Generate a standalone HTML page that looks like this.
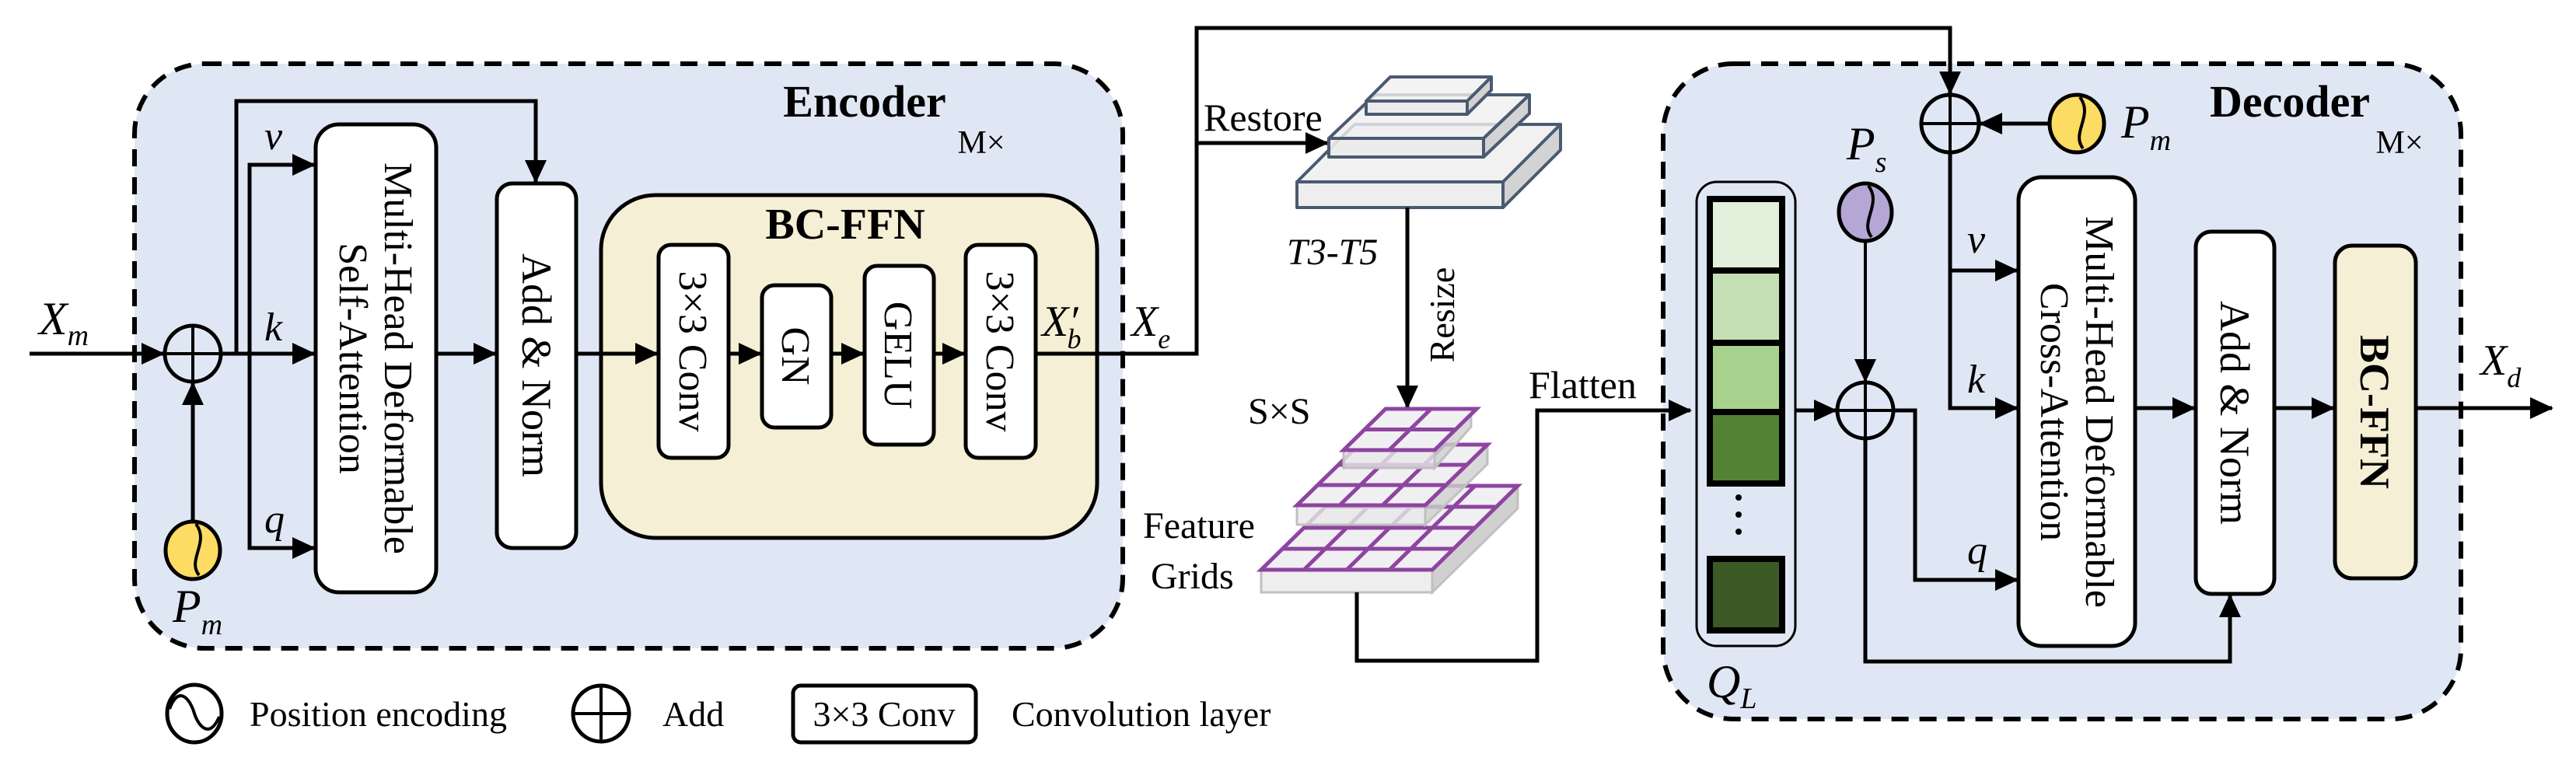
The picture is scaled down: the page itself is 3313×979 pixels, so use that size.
<!DOCTYPE html>
<html><head><meta charset="utf-8"><style>
html,body{margin:0;padding:0;background:#fff;}
svg{display:block;}
svg text{font-family:"Liberation Serif","DejaVu Serif","Times New Roman",serif;fill:#000;}
</style></head><body>
<svg width="3313" height="979" viewBox="0 0 3313 979" xmlns="http://www.w3.org/2000/svg" font-family="Liberation Serif, DejaVu Serif, serif">
<defs>
<marker id="ar" markerUnits="userSpaceOnUse" markerWidth="30" markerHeight="28" refX="28" refY="14" orient="auto"><path d="M0,0 L30,14 L0,28 Z" fill="#000"/></marker>
<g id="pe"><path d="M8,32 C-8,12 22,-10 4,-34" fill="none" stroke="#000" stroke-width="4"/></g>
</defs>

<!-- Encoder box -->
<rect x="173" y="82" width="1271" height="752" rx="90" fill="#e0e7f4" stroke="#000" stroke-width="6" stroke-dasharray="22,14"/>
<text x="1112" y="150" font-size="58" font-weight="bold" text-anchor="middle">Encoder</text>
<text x="1262" y="197" font-size="42" text-anchor="middle">M×</text>

<!-- input -->
<line x1="38" y1="455" x2="210" y2="455" stroke="#000" stroke-width="5" marker-end="url(#ar)"/>
<text x="50" y="430" font-size="60" font-style="italic">X<tspan dy="14" font-size="38">m</tspan></text>
<circle cx="248" cy="455" r="36" fill="none" stroke="#000" stroke-width="5"/>
<line x1="212" y1="455" x2="284" y2="455" stroke="#000" stroke-width="4"/>
<line x1="248" y1="419" x2="248" y2="491" stroke="#000" stroke-width="4"/>
<line x1="248" y1="672" x2="248" y2="493" stroke="#000" stroke-width="5" marker-end="url(#ar)"/>
<ellipse cx="248" cy="708" rx="35" ry="37" fill="#fcdc63" stroke="#000" stroke-width="5"/>
<use href="#pe" x="248" y="708"/>
<text x="222" y="800" font-size="60" font-style="italic">P<tspan dy="16" font-size="38">m</tspan></text>

<!-- branches -->
<line x1="284" y1="455" x2="404" y2="455" stroke="#000" stroke-width="5" marker-end="url(#ar)"/>
<polyline points="404,212 321,212 321,705 404,705" fill="none" stroke="#000" stroke-width="5"/>
<line x1="321" y1="212" x2="404" y2="212" stroke="#000" stroke-width="5" marker-end="url(#ar)"/>
<line x1="321" y1="705" x2="404" y2="705" stroke="#000" stroke-width="5" marker-end="url(#ar)"/>
<polyline points="304,455 304,130 689,130 689,234" fill="none" stroke="#000" stroke-width="5" marker-end="url(#ar)"/>
<text x="340" y="192" font-size="52" font-style="italic">v</text>
<text x="340" y="438" font-size="52" font-style="italic">k</text>
<text x="340" y="685" font-size="52" font-style="italic">q</text>

<!-- MHSA -->
<rect x="406" y="160" width="155" height="602" rx="30" fill="#fff" stroke="#000" stroke-width="5"/>
<g transform="translate(483,461) rotate(90)"><text x="0" y="-12" font-size="52" text-anchor="middle">Multi-Head Deformable</text><text x="0" y="46" font-size="52" text-anchor="middle">Self-Attention</text></g>
<line x1="561" y1="455" x2="637" y2="455" stroke="#000" stroke-width="5" marker-end="url(#ar)"/>
<rect x="639" y="236" width="102" height="469" rx="20" fill="#fff" stroke="#000" stroke-width="5"/>
<g transform="translate(690,470) rotate(90)"><text x="0" y="18" font-size="54" text-anchor="middle">Add &amp; Norm</text></g>

<!-- BC-FFN -->
<rect x="773" y="251" width="638" height="441" rx="70" fill="#f5efd5" stroke="#000" stroke-width="5"/>
<text x="1087" y="307" font-size="56" font-weight="bold" text-anchor="middle">BC-FFN</text>
<line x1="741" y1="455" x2="845" y2="455" stroke="#000" stroke-width="5" marker-end="url(#ar)"/>
<rect x="847" y="315" width="90" height="274" rx="16" fill="#fff" stroke="#000" stroke-width="5"/>
<g transform="translate(892,452) rotate(90)"><text x="0" y="18" font-size="52" text-anchor="middle">3×3 Conv</text></g>
<line x1="937" y1="455" x2="978" y2="455" stroke="#000" stroke-width="5" marker-end="url(#ar)"/>
<rect x="980" y="367" width="89" height="183" rx="16" fill="#fff" stroke="#000" stroke-width="5"/>
<g transform="translate(1024,458) rotate(90)"><text x="0" y="18" font-size="52" text-anchor="middle">GN</text></g>
<line x1="1069" y1="455" x2="1110" y2="455" stroke="#000" stroke-width="5" marker-end="url(#ar)"/>
<rect x="1112" y="342" width="89" height="230" rx="16" fill="#fff" stroke="#000" stroke-width="5"/>
<g transform="translate(1156,457) rotate(90)"><text x="0" y="18" font-size="52" text-anchor="middle">GELU</text></g>
<line x1="1201" y1="455" x2="1240" y2="455" stroke="#000" stroke-width="5" marker-end="url(#ar)"/>
<rect x="1242" y="315" width="90" height="274" rx="16" fill="#fff" stroke="#000" stroke-width="5"/>
<g transform="translate(1287,452) rotate(90)"><text x="0" y="18" font-size="52" text-anchor="middle">3×3 Conv</text></g>
<text x="1340" y="432" font-size="56" font-style="italic">X′<tspan dx="-14" dy="16" font-size="36">b</tspan></text>
<text x="1455" y="432" font-size="56" font-style="italic">X<tspan dy="16" font-size="36">e</tspan></text>

<!-- output routing -->
<polyline points="1332,455 1539,455 1539,36 2508,36 2508,120" fill="none" stroke="#000" stroke-width="5" marker-end="url(#ar)"/>
<line x1="1539" y1="184" x2="1707" y2="184" stroke="#000" stroke-width="5" marker-end="url(#ar)"/>
<text x="1548" y="168" font-size="50">Restore</text>

<!-- restore stack -->
<g stroke="#4a5a70" stroke-width="4" stroke-linejoin="round">
<polygon points="1668,234 1742,160 2007,160 1933,234" fill="#f0f0f1" fill-opacity="0.9"/>
<polygon points="1933,234 2007,160 2007,193 1933,267" fill="#d3d3d4"/>
<rect x="1668" y="234" width="265" height="33" fill="#eeeeef"/>
<polygon points="1709,178 1768,122 1967,122 1908,178" fill="#f0f0f1" fill-opacity="0.8"/>
<polygon points="1908,178 1967,122 1967,146 1908,202" fill="#d3d3d4"/>
<rect x="1709" y="178" width="199" height="24" fill="#ebebec" fill-opacity="0.9"/>
<polygon points="1757,130 1788,99 1918,99 1887,130" fill="#f0f0f1" fill-opacity="0.8"/>
<polygon points="1887,130 1918,99 1918,116 1887,147" fill="#d3d3d4"/>
<rect x="1757" y="130" width="130" height="17" fill="#ebebec" fill-opacity="0.9"/>
</g>
<text x="1655" y="340" font-size="48" font-style="italic">T3-T5</text>
<line x1="1810" y1="267" x2="1810" y2="524" stroke="#000" stroke-width="5" marker-end="url(#ar)"/>
<g transform="translate(1855,405) rotate(-90)"><text x="0" y="15" font-size="46" text-anchor="middle">Resize</text></g>
<text x="1605" y="545" font-size="48">S×S</text>
<text x="1470" y="692" font-size="48">Feature</text>
<text x="1480" y="757" font-size="48">Grids</text>

<!-- feature grids -->
<g>
<polygon points="1842,733 1952,625 1952,654 1842,762" fill="#d0d0d0" stroke="#c0c0c0" stroke-width="3"/>
<rect x="1622" y="733" width="220" height="29" fill="#eeeeee" stroke="#c0c0c0" stroke-width="3"/>
<g transform="matrix(220 0 110 -108 1622 733)" fill="#f0f0f2" stroke="#8e44a0" stroke-width="5">
<rect x="0" y="0" width="1" height="1" vector-effect="non-scaling-stroke"/>
<path d="M0.25,0V1M0.5,0V1M0.75,0V1M0,0.25H1M0,0.5H1M0,0.75H1" vector-effect="non-scaling-stroke" fill="none"/>
</g>
<polygon points="1833,650 1913,572 1913,597 1833,675" fill="#d0d0d0" fill-opacity="0.8" stroke="#c0c0c0" stroke-width="3"/>
<rect x="1668" y="650" width="165" height="25" fill="#e8e8e8" fill-opacity="0.8" stroke="#c0c0c0" stroke-width="3"/>
<g transform="matrix(165 0 80 -78 1668 650)" fill="#f0f0f2" stroke="#8e44a0" stroke-width="5">
<rect x="0" y="0" width="1" height="1" vector-effect="non-scaling-stroke"/>
<path d="M0.333,0V1M0.667,0V1M0,0.333H1M0,0.667H1" vector-effect="non-scaling-stroke" fill="none"/>
</g>
<polygon points="1845,579 1892,526 1892,549 1845,602" fill="#d0d0d0" fill-opacity="0.8" stroke="#c0c0c0" stroke-width="3"/>
<rect x="1728" y="579" width="117" height="23" fill="#e8e8e8" fill-opacity="0.8" stroke="#c0c0c0" stroke-width="3"/>
<g transform="matrix(117 0 54 -53 1728 579)" fill="#f0f0f2" stroke="#8e44a0" stroke-width="5">
<rect x="0" y="0" width="1" height="1" vector-effect="non-scaling-stroke"/>
<path d="M0.5,0V1M0,0.5H1" vector-effect="non-scaling-stroke" fill="none"/>
</g>
</g>
<polyline points="1745,762 1745,850 1977,850 1977,528 2174,528" fill="none" stroke="#000" stroke-width="5" marker-end="url(#ar)"/>
<text x="1966" y="512" font-size="50">Flatten</text>

<!-- Decoder box -->
<rect x="2139" y="82" width="1026" height="843" rx="90" fill="#e0e7f4" stroke="#000" stroke-width="6" stroke-dasharray="22,14"/>
<text x="2945" y="150" font-size="58" font-weight="bold" text-anchor="middle">Decoder</text>
<text x="3086" y="197" font-size="42" text-anchor="middle">M×</text>
<line x1="2508" y1="36" x2="2508" y2="120" stroke="#000" stroke-width="5" marker-end="url(#ar)"/>
<line x1="2139" y1="528" x2="2174" y2="528" stroke="#000" stroke-width="5" marker-end="url(#ar)"/>

<!-- Q_L -->
<rect x="2182" y="234" width="127" height="597" rx="26" fill="none" stroke="#000" stroke-width="3"/>
<g stroke="#000" stroke-width="8">
<rect x="2199" y="256" width="93" height="92" fill="#e2efda"/>
<rect x="2199" y="348" width="93" height="93" fill="#c5e0b4"/>
<rect x="2199" y="441" width="93" height="89" fill="#a9d18e"/>
<rect x="2199" y="530" width="93" height="92" fill="#548235"/>
<rect x="2199" y="719" width="93" height="92" fill="#3b5a25"/>
</g>
<circle cx="2236" cy="640" r="4"/><circle cx="2236" cy="662" r="4"/><circle cx="2236" cy="684" r="4"/>
<text x="2195" y="897" font-size="60" font-style="italic">Q<tspan dy="14" font-size="38">L</tspan></text>

<!-- Ps & add -->
<line x1="2309" y1="528" x2="2361" y2="528" stroke="#000" stroke-width="5" marker-end="url(#ar)"/>
<ellipse cx="2399" cy="273" rx="34" ry="37" fill="#b4a7d6" stroke="#000" stroke-width="5"/>
<use href="#pe" x="2399" y="273"/>
<text x="2375" y="205" font-size="60" font-style="italic">P<tspan dy="16" font-size="38">s</tspan></text>
<line x1="2399" y1="310" x2="2399" y2="490" stroke="#000" stroke-width="4" marker-end="url(#ar)"/>
<circle cx="2399" cy="528" r="36" fill="none" stroke="#000" stroke-width="5"/>
<line x1="2363" y1="528" x2="2435" y2="528" stroke="#000" stroke-width="4"/>
<line x1="2399" y1="492" x2="2399" y2="564" stroke="#000" stroke-width="4"/>
<polyline points="2435,528 2463,528 2463,746 2594,746" fill="none" stroke="#000" stroke-width="5" marker-end="url(#ar)"/>
<polyline points="2399,564 2399,851 2868,851 2868,766" fill="none" stroke="#000" stroke-width="5" marker-end="url(#ar)"/>
<text x="2530" y="725" font-size="52" font-style="italic">q</text>

<!-- top add -->
<circle cx="2508" cy="159" r="37" fill="none" stroke="#000" stroke-width="5"/>
<line x1="2471" y1="159" x2="2545" y2="159" stroke="#000" stroke-width="4"/>
<line x1="2508" y1="122" x2="2508" y2="196" stroke="#000" stroke-width="4"/>
<ellipse cx="2671" cy="159" rx="35" ry="37" fill="#fcdc63" stroke="#000" stroke-width="5"/>
<use href="#pe" x="2671" y="159"/>
<line x1="2636" y1="159" x2="2547" y2="159" stroke="#000" stroke-width="5" marker-end="url(#ar)"/>
<text x="2728" y="177" font-size="60" font-style="italic">P<tspan dy="16" font-size="38">m</tspan></text>
<polyline points="2508,196 2508,525 2594,525" fill="none" stroke="#000" stroke-width="5" marker-end="url(#ar)"/>
<line x1="2508" y1="348" x2="2594" y2="348" stroke="#000" stroke-width="5" marker-end="url(#ar)"/>
<text x="2530" y="325" font-size="52" font-style="italic">v</text>
<text x="2530" y="505" font-size="52" font-style="italic">k</text>

<!-- MHCA -->
<rect x="2596" y="228" width="150" height="603" rx="30" fill="#fff" stroke="#000" stroke-width="5"/>
<g transform="translate(2671,530) rotate(90)"><text x="0" y="-12" font-size="52" text-anchor="middle">Multi-Head Deformable</text><text x="0" y="46" font-size="52" text-anchor="middle">Cross-Attention</text></g>
<line x1="2746" y1="525" x2="2822" y2="525" stroke="#000" stroke-width="5" marker-end="url(#ar)"/>
<rect x="2824" y="298" width="101" height="466" rx="20" fill="#fff" stroke="#000" stroke-width="5"/>
<g transform="translate(2874,531) rotate(90)"><text x="0" y="18" font-size="54" text-anchor="middle">Add &amp; Norm</text></g>
<line x1="2925" y1="525" x2="3001" y2="525" stroke="#000" stroke-width="5" marker-end="url(#ar)"/>
<rect x="3003" y="316" width="104" height="428" rx="22" fill="#f5efd5" stroke="#000" stroke-width="5"/>
<g transform="translate(3055,530) rotate(90)"><text x="0" y="19" font-size="54" font-weight="bold" text-anchor="middle">BC-FFN</text></g>
<line x1="3107" y1="525" x2="3282" y2="525" stroke="#000" stroke-width="5" marker-end="url(#ar)"/>
<text x="3190" y="482" font-size="56" font-style="italic">X<tspan dy="16" font-size="36">d</tspan></text>

<!-- legend -->
<ellipse cx="250" cy="918" rx="35" ry="37" fill="none" stroke="#000" stroke-width="5"/>
<path d="M218,912 C230,880 245,900 250,918 C256,936 270,950 282,922" fill="none" stroke="#000" stroke-width="4"/>
<text x="321" y="934" font-size="46">Position encoding</text>
<circle cx="773" cy="918" r="36" fill="none" stroke="#000" stroke-width="5"/>
<line x1="737" y1="918" x2="809" y2="918" stroke="#000" stroke-width="4"/>
<line x1="773" y1="882" x2="773" y2="954" stroke="#000" stroke-width="4"/>
<text x="852" y="934" font-size="46">Add</text>
<rect x="1020" y="882" width="235" height="73" rx="10" fill="#fff" stroke="#000" stroke-width="5"/>
<text x="1137" y="934" font-size="46" text-anchor="middle">3×3 Conv</text>
<text x="1301" y="934" font-size="46">Convolution layer</text>
</svg>
</body></html>
